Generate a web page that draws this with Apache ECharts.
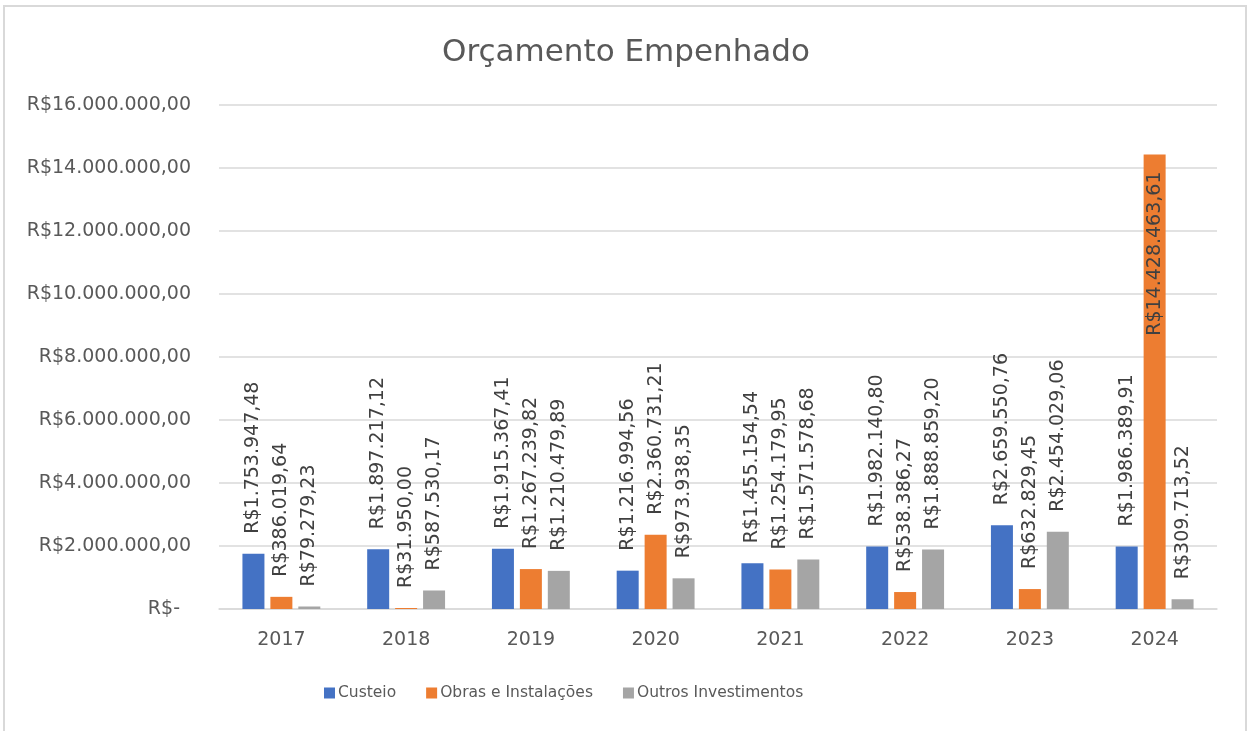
<!DOCTYPE html>
<html>
<head>
<meta charset="utf-8">
<script src="https://cdn.jsdelivr.net/npm/echarts@6/dist/echarts.min.js"></script>
<style>
  html, body { margin: 0; padding: 0; background: #fff; }
  #chart { width: 1252px; height: 731px; }
</style>
</head>
<body>
<div id="chart"></div>
<script>
// dados do gráfico
const anos = ['2017', '2018', '2019', '2020', '2021', '2022', '2023', '2024'];
const custeio = [1753947.48, 1897217.12, 1915367.41, 1216994.56, 1455154.54, 1982140.80, 2659550.76, 1986389.91];
const obras = [386019.64, 31950.00, 1267239.82, 2360731.21, 1254179.95, 538386.27, 632829.45, 14428463.61];
const outros = [79279.23, 587530.17, 1210479.89, 973938.35, 1571578.68, 1888859.20, 2454029.06, 309713.52];
const nomes = ['Custeio', 'Obras e Instalações', 'Outros Investimentos'];
const cores = ['#4472C4', '#ED7D31', '#A5A5A5'];

const FONT = 'DejaVu Sans';
const FS = 19;

// R$1.234.567,89
function brl(v) {
  const parts = v.toFixed(2).split('.');
  const inteiro = parts[0].replace(/\B(?=(\d{3})+(?!\d))/g, '.');
  return 'R$' + inteiro + ',' + parts[1];
}

const labelBase = {
  show: true,
  position: 'top',
  distance: 20,
  rotate: 90,
  align: 'left',
  verticalAlign: 'middle',
  color: '#404040',
  fontFamily: FONT,
  fontSize: FS,
  formatter: (p) => brl(p.value),
};

function makeData(arr) {
  // barra que passa do topo: rótulo dentro da barra
  return arr.map(v => {
    if (v > 10000000) {
      return {
        value: v,
        label: { position: 'insideTop', distance: 17, align: 'right' },
      };
    }
    return v;
  });
}

const series = [custeio, obras, outros].map((arr, i) => ({
  name: nomes[i],
  type: 'bar',
  data: makeData(arr),
  barWidth: 22,
  barGap: '27%',
  itemStyle: { color: cores[i] },
  label: labelBase,
}));

const option = {
  animation: false,
  backgroundColor: '#fff',
  title: {
    text: 'Orçamento Empenhado',
    left: 'center',
    top: 32,
    textStyle: { color: '#595959', fontFamily: FONT, fontSize: 31, fontWeight: 'normal' },
  },
  legend: {
    left: 324,
    top: 685,
    padding: 0,
    itemWidth: 11,
    itemHeight: 11,
    itemGap: 30,
    icon: 'rect',
    data: nomes,
    textStyle: { color: '#595959', fontFamily: FONT, fontSize: 15.5, padding: [0, 0, 0, -2] },
  },
  grid: { left: 219, right: 35, top: 105, bottom: 122 },
  xAxis: {
    type: 'category',
    data: anos,
    axisLine: { lineStyle: { color: '#D9D9D9', width: 1.5 } },
    axisTick: { show: false },
    axisLabel: { color: '#595959', fontFamily: FONT, fontSize: FS, margin: 22 },
  },
  yAxis: {
    type: 'value',
    min: 0,
    max: 16000000,
    interval: 2000000,
    axisLine: { show: false },
    axisTick: { show: false },
    splitLine: { lineStyle: { color: '#D9D9D9', width: 1.5 } },
    axisLabel: {
      color: '#595959',
      fontFamily: FONT,
      fontSize: FS,
      margin: 28,
      formatter: (v) => v === 0 ? '{z|R$-}' : brl(v),
      rich: { z: { color: '#595959', fontFamily: FONT, fontSize: FS, padding: [0, 11, 0, 0] } },
    },
  },
  graphic: [{
    type: 'rect',
    shape: { x: 4, y: 6, width: 1242, height: 740 },
    style: { fill: 'none', stroke: '#D9D9D9', lineWidth: 2 },
    silent: true,
  }],
  series: series,
};

const chart = echarts.init(document.getElementById('chart'));
chart.setOption(option);
</script>
</body>
</html>
